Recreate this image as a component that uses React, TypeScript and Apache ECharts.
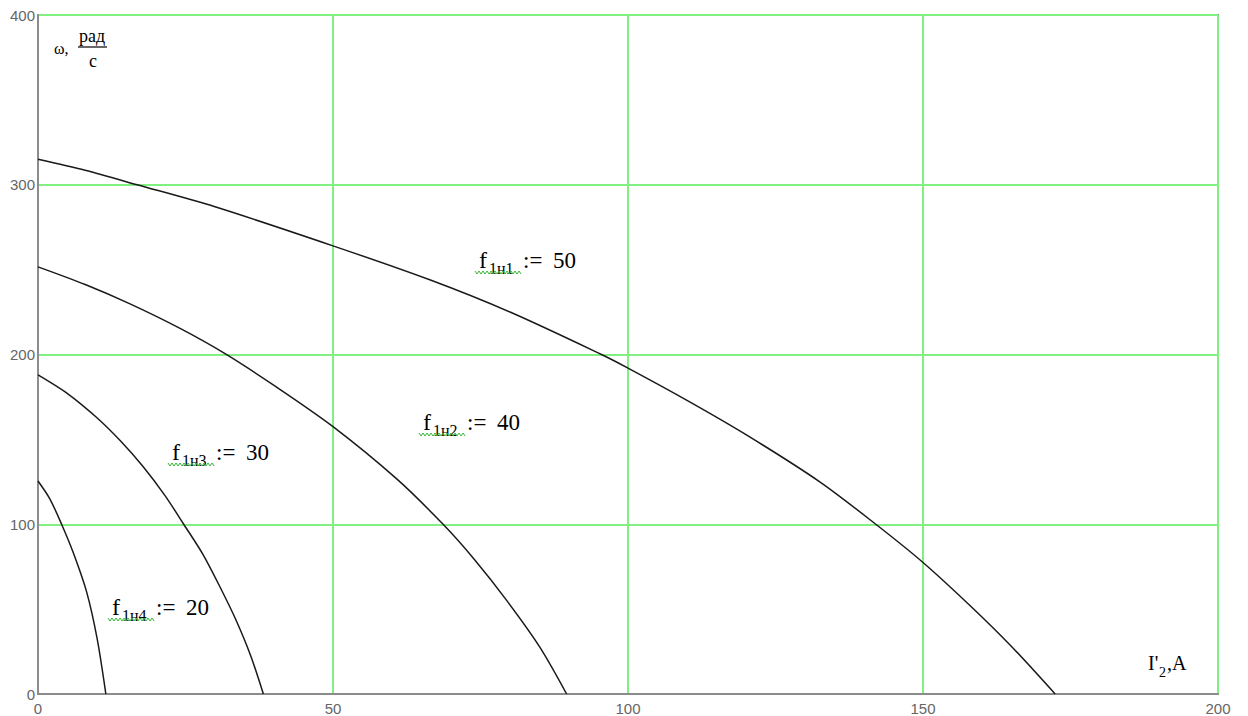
import React, { useEffect, useRef } from 'react';
import * as echarts from 'echarts';

// Axis ticks
const xTicks = [0, 50, 100, 150, 200];
const yTicks = [0, 100, 200, 300, 400];

// Curves: I'2 (A) vs ω (rad/s)
const curve1I = [0, 8, 16.8, 30, 50, 66.4, 80, 95.5, 100, 110, 120, 132.5, 142, 150, 158, 165, 172.4];
const curve1W = [315, 308.5, 300, 287, 264, 244, 225, 200, 192, 173, 152.8, 125, 100, 77.5, 52, 28, 0];

const curve2I = [0, 8, 15.6, 24, 31.7, 40, 50, 60.8, 68.7, 74, 79.4, 85, 89.6];
const curve2W = [251.6, 241.2, 229.8, 215.5, 200.5, 181.8, 157.5, 126.7, 99.8, 79.1, 55.3, 27.9, 0];

const curve3I = [0, 5, 9.9, 14, 17.8, 21.5, 24.7, 28, 31, 33.5, 36, 38.2];
const curve3W = [188, 177, 163, 149, 134, 117, 100, 82, 62, 44, 23, 0];

const curve4I = [0, 2, 4, 6, 8.25, 10, 11.5];
const curve4W = [125.5, 115, 100, 83, 60, 33, 0];

const curveNames = ['f1н1 = 50', 'f1н2 = 40', 'f1н3 = 30', 'f1н4 = 20'];
const labelSubs = ['1н1', '1н2', '1н3', '1н4'];
const labelValues = ['50', '40', '30', '20'];

const SERIF = '"Liberation Serif", "Times New Roman", serif';

function pairs(xs: number[], ys: number[]) {
  return xs.map((x, i) => [x, ys[i]]);
}

function squiggle(x0: number, x1: number, y: number) {
  const pts: number[][] = [];
  let up = true;
  for (let x = x0; x <= x1; x += 2) {
    pts.push([x, up ? y : y + 3]);
    up = !up;
  }
  return pts;
}

function buildLabel(fx: number, baseline: number, sub: string, value: string) {
  return [
    { type: 'text', x: fx, y: baseline - 7.8, style: { text: 'f', fontSize: 24, fontFamily: SERIF, fill: '#000', align: 'left', verticalAlign: 'middle' } },
    { type: 'text', x: fx + 10, y: baseline + 0.5, style: { text: sub, fontSize: 16, fontFamily: SERIF, fill: '#000', align: 'left', verticalAlign: 'middle' } },
    { type: 'text', x: fx + 44, y: baseline - 7.8, style: { text: ':=', fontSize: 23, fontFamily: SERIF, fill: '#000', align: 'left', verticalAlign: 'middle' } },
    { type: 'text', x: fx + 74, y: baseline - 7.8, style: { text: value, fontSize: 23, fontFamily: SERIF, fill: '#000', align: 'left', verticalAlign: 'middle' } },
    { type: 'polyline', shape: { points: squiggle(fx - 4, fx + 42, baseline + 3) }, style: { stroke: '#33b833', lineWidth: 1, fill: null } },
  ];
}

export default function App() {
  const ref = useRef<HTMLDivElement>(null);
  useEffect(() => {
    if (!ref.current) return;
    const chart = echarts.init(ref.current, null, { renderer: 'svg' });
    const seriesData = [
      pairs(curve1I, curve1W),
      pairs(curve2I, curve2W),
      pairs(curve3I, curve3W),
      pairs(curve4I, curve4W),
    ];
    const labelPos = [
      [479, 268],
      [423, 430],
      [172, 460],
      [112, 615],
    ];
    const graphics: any[] = [];
    labelPos.forEach((p, i) => {
      graphics.push(...buildLabel(p[0], p[1], labelSubs[i], labelValues[i]));
    });
    graphics.push(
      { type: 'text', x: 54, y: 48, style: { text: 'ω,', fontSize: 16, fontFamily: SERIF, fill: '#000', align: 'left', verticalAlign: 'middle' } },
      { type: 'text', x: 92, y: 36, style: { text: 'рад', fontSize: 18, fontFamily: SERIF, fill: '#000', align: 'center', verticalAlign: 'middle' } },
      { type: 'line', shape: { x1: 78, y1: 47, x2: 107, y2: 47 }, style: { stroke: '#000', lineWidth: 1.2 } },
      { type: 'text', x: 93, y: 61, style: { text: 'с', fontSize: 18, fontFamily: SERIF, fill: '#000', align: 'center', verticalAlign: 'middle' } },
      { type: 'text', x: 1148, y: 663, style: { text: "I'", fontSize: 20, fontFamily: SERIF, fill: '#000', align: 'left', verticalAlign: 'middle' } },
      { type: 'text', x: 1159, y: 672, style: { text: '2', fontSize: 14, fontFamily: SERIF, fill: '#000', align: 'left', verticalAlign: 'middle' } },
      { type: 'text', x: 1167, y: 663, style: { text: ',A', fontSize: 20, fontFamily: SERIF, fill: '#000', align: 'left', verticalAlign: 'middle' } },
    );

    chart.setOption({
      animation: false,
      backgroundColor: '#fff',
      grid: {
        left: 38, right: 30, top: 15, bottom: 21,
        show: true, borderColor: '#8c8c8c', borderWidth: 2, containLabel: false,
      },
      xAxis: {
        type: 'value', min: xTicks[0], max: xTicks[xTicks.length - 1], interval: 50,
        axisLine: { show: true, lineStyle: { color: '#8c8c8c', width: 2 } },
        axisTick: { show: false },
        axisLabel: { color: '#666', fontSize: 15, fontFamily: '"Liberation Sans", Arial, sans-serif', margin: 7 },
        splitLine: { show: true, lineStyle: { color: '#80f080', width: 2 } },
      },
      yAxis: {
        type: 'value', min: yTicks[0], max: yTicks[yTicks.length - 1], interval: 100,
        axisLine: { show: true, lineStyle: { color: '#8c8c8c', width: 2 } },
        axisTick: { show: false },
        axisLabel: { color: '#666', fontSize: 15, fontFamily: '"Liberation Sans", Arial, sans-serif', margin: 3 },
        splitLine: { show: true, lineStyle: { color: '#80f080', width: 2 } },
      },
      series: seriesData.map((d, i) => ({
        name: curveNames[i],
        type: 'line',
        data: d,
        smooth: 0.3,
        showSymbol: false,
        lineStyle: { color: '#1a1a1a', width: 1.5 },
        z: 3,
      })),
      graphic: graphics,
    });
    return () => chart.dispose();
  }, []);
  return <div ref={ref} style={{ position: 'absolute', left: 0, top: 0, width: 1248, height: 716 }} />;
}
